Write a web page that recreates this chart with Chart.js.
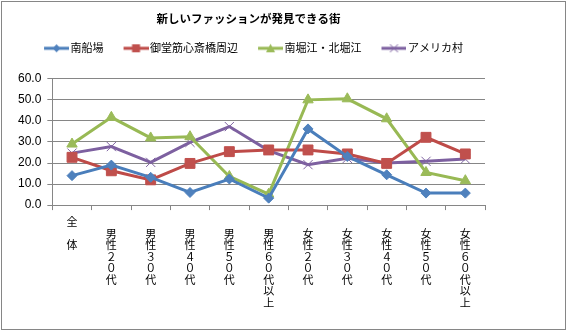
<!DOCTYPE html>
<html>
<head>
<meta charset="utf-8">
<script src="https://cdn.jsdelivr.net/npm/chart.js@4"></script>
<style>
  html, body { margin: 0; padding: 0; background: #fff; }
  #wrap { position: absolute; left: 1px; top: 1px; width: 563px; height: 327px; border: 1px solid #868686; overflow: hidden; }
  #grafico { position: absolute; left: -2px; top: -2px; }
</style>
</head>
<body>
<div id="wrap"><canvas id="grafico" width="542" height="331"></canvas></div>
<script>
// Datos
const categorias = [
  ["全", "", "体"],
  ["", "男", "性", "２", "０", "代"],
  ["", "男", "性", "３", "０", "代"],
  ["", "男", "性", "４", "０", "代"],
  ["", "男", "性", "５", "０", "代"],
  ["", "男", "性", "６", "０", "代", "以", "上"],
  ["", "女", "性", "２", "０", "代"],
  ["", "女", "性", "３", "０", "代"],
  ["", "女", "性", "４", "０", "代"],
  ["", "女", "性", "５", "０", "代"],
  ["", "女", "性", "６", "０", "代", "以", "上"]
];
const minamiSemba = [14.0, 19.0, 13.2, 6.0, 12.4, 3.3, 36.2, 23.1, 14.4, 5.7, 5.7];
const midosuji = [22.7, 16.3, 12.0, 19.8, 25.4, 26.2, 26.2, 24.3, 19.8, 32.2, 24.3];
const horie = [29.0, 41.7, 31.9, 32.5, 13.6, 5.2, 50.0, 50.5, 41.0, 15.5, 11.6];
const amerikaMura = [24.7, 27.8, 20.3, 29.8, 37.3, 25.9, 19.2, 22.2, 20.0, 20.8, 21.9];
const yTicks = [0, 10, 20, 30, 40, 50, 60];

// Icono de leyenda: línea + marcador (parte izquierda transparente = separación)
function iconoLeyenda(color, relleno, estilo) {
  const c = document.createElement("canvas");
  c.width = 39; c.height = 12;
  const ctx = c.getContext("2d");
  ctx.translate(14, 0);
  ctx.strokeStyle = color;
  ctx.lineWidth = 3;
  ctx.beginPath(); ctx.moveTo(0, 6); ctx.lineTo(25, 6); ctx.stroke();
  ctx.fillStyle = relleno;
  ctx.strokeStyle = relleno;
  ctx.lineWidth = 1;
  ctx.beginPath();
  if (estilo === "rombo") {
    ctx.moveTo(12.5, 2); ctx.lineTo(16.5, 6); ctx.lineTo(12.5, 10); ctx.lineTo(8.5, 6); ctx.closePath(); ctx.fill();
  } else if (estilo === "cuadrado") {
    ctx.rect(8.5, 2, 8, 8); ctx.fill();
  } else if (estilo === "triangulo") {
    ctx.moveTo(12.5, 1.5); ctx.lineTo(17, 10); ctx.lineTo(8, 10); ctx.closePath(); ctx.fill();
  } else {
    ctx.moveTo(8.5, 2); ctx.lineTo(16.5, 10); ctx.moveTo(16.5, 2); ctx.lineTo(8.5, 10); ctx.stroke();
  }
  return c;
}

function serie(label, data, color, relleno, estilo, pointStyle, radio) {
  return {
    label: label,
    data: data,
    borderColor: color,
    backgroundColor: relleno,
    pointBackgroundColor: relleno,
    pointBorderColor: relleno,
    borderWidth: 3,
    pointStyle: pointStyle,
    pointRadius: radio,
    pointBorderWidth: 1,
    tension: 0,
    icono: iconoLeyenda(color, relleno, estilo)
  };
}

const fuenteJP = "'Noto Sans CJK JP', 'Noto Sans', sans-serif";

// Alto extra para la leyenda
const espacioLeyenda = {
  id: "espacioLeyenda",
  beforeInit(chart) {
    const fitOrig = chart.legend.fit;
    chart.legend.fit = function () {
      fitOrig.bind(chart.legend)();
      this.height += 15;
    };
  }
};

new Chart(document.getElementById("grafico"), {
  type: "line",
  data: {
    labels: categorias,
    datasets: [
      serie("南船場", minamiSemba, "#4A7EBB", "#4F81BD", "rombo", "rectRot", 5),
      serie("御堂筋心斎橋周辺", midosuji, "#BE4B48", "#C0504D", "cuadrado", "rect", 7),
      serie("南堀江・北堀江", horie, "#98B954", "#9BBB59", "triangulo", "triangle", 6),
      serie("アメリカ村", amerikaMura, "#7D60A0", "#8064A2", "cruz", "crossRot", 6.5)
    ]
  },
  plugins: [espacioLeyenda],
  options: {
    responsive: false,
    animation: false,
    layout: { padding: { left: 12, right: 57, top: 0, bottom: 16.5 } },
    plugins: {
      title: {
        display: true,
        text: "新しいファッションが発見できる街",
        color: "#000",
        font: { family: fuenteJP, size: 11.5, weight: "bold" },
        padding: { top: 12, bottom: 7 }
      },
      legend: {
        display: true,
        labels: {
          color: "#000",
          font: { family: fuenteJP, size: 11 },
          usePointStyle: true,
          pointStyleWidth: 31,
          padding: 10,
          generateLabels(chart) {
            return chart.data.datasets.map((ds, i) => ({
              text: ds.label,
              pointStyle: ds.icono,
              fillStyle: ds.borderColor,
              strokeStyle: ds.borderColor,
              lineWidth: 0,
              datasetIndex: i,
              hidden: false
            }));
          }
        }
      },
      tooltip: { enabled: false }
    },
    scales: {
      x: {
        offset: true,
        grid: { offset: true, drawOnChartArea: false, drawTicks: true, tickLength: 5, color: "#868686" },
        border: { color: "#868686", width: 1 },
        ticks: {
          color: "#000",
          autoSkip: false,
          maxRotation: 0,
          minRotation: 0,
          padding: 6,
          font: { family: fuenteJP, size: 11, lineHeight: 1.05 }
        }
      },
      y: {
        min: 0,
        max: 60,
        afterBuildTicks(axis) { axis.ticks = yTicks.map(v => ({ value: v })); },
        grid: { color: "#868686", tickLength: 5 },
        border: { color: "#868686", width: 1 },
        ticks: {
          color: "#000",
          autoSkip: false,
          padding: 6,
          font: { family: "'Liberation Sans', sans-serif", size: 12 },
          callback: v => Number(v).toFixed(1)
        }
      }
    }
  }
});
</script>
</body>
</html>
